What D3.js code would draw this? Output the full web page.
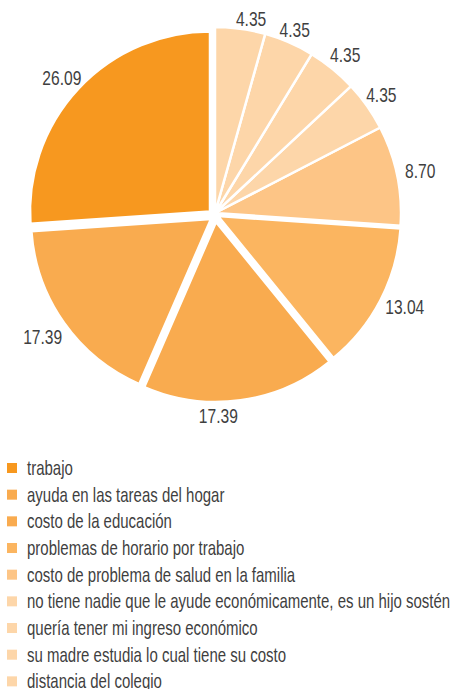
<!DOCTYPE html>
<html>
<head>
<meta charset="utf-8">
<script src="https://cdn.jsdelivr.net/npm/d3@7"></script>
<style>
  html, body { margin: 0; padding: 0; background: #fff; }
  svg { display: block; }
  text { font-family: "Liberation Sans", Arial, sans-serif; fill: #3f3f3f; }
</style>
</head>
<body>
<svg id="chart" width="452" height="689"></svg>
<script>
// Reasons given, in legend order
const categories = [
  "trabajo",
  "ayuda en las tareas del hogar",
  "costo de la educación",
  "problemas de horario por trabajo",
  "costo de problema de salud en la familia",
  "no tiene nadie que le ayude económicamente, es un hijo sostén",
  "quería tener mi ingreso económico",
  "su madre estudia lo cual tiene su costo",
  "distancia del colegio"
];
// Percentage of respondents per reason
const values = [26.09, 17.39, 17.39, 13.04, 8.70, 4.35, 4.35, 4.35, 4.35];
const valueLabels = ["26.09", "17.39", "17.39", "13.04", "8.70", "4.35", "4.35", "4.35", "4.35"];

// Slice fills
const colors = ["#f7981f", "#f9ab4f", "#f9ab4f", "#fbb560", "#fdc586", "#fdd6a9", "#fdd6a9", "#fdd6a9", "#fdd6a9"];
// Exploded slices: offset of each slice from the pie centre and its radius
const sliceShift = [[-5, -1.5], [-4, 6], [1, 9], [3, 3], [0, 0], [0, 0], [0, 0], [0, 0], [0, 0]];
const sliceRadius = [180, 180, 180, 183, 186, 186, 186, 186, 186];
// Hand-placed label nudges
const labelNudge = [[0, 5], [-2, 1], [-24, 3], [3, -4], [4, 0], [-2, 1], [1, 1], [-1, 3], [9, 3]];

// Condensed look: glyphs squeezed horizontally
const labelSqueeze = 0.78;
const legendSqueeze = 0.75;

const svg = d3.select("#chart");
const cx = 215, cy = 213;

const rows = categories.map((c, i) => ({ name: c, value: values[i], label: valueLabels[i], i }));

// Slices run counter-clockwise from 12 o'clock in legend order,
// so the largest reason ends at the top on the left.
const pie = d3.pie().sort(null).value(d => d.value)
  .startAngle(2 * Math.PI).endAngle(0);
const arcs = pie(rows);

const g = svg.append("g").attr("transform", `translate(${cx},${cy})`);

const slice = g.selectAll("g.slice").data(arcs).join("g")
  .attr("class", "slice")
  .attr("transform", d => `translate(${sliceShift[d.data.i][0]},${sliceShift[d.data.i][1]})`);

slice.append("path")
  .attr("d", d => d3.arc().innerRadius(0).outerRadius(sliceRadius[d.data.i])(d))
  .attr("fill", d => colors[d.data.i])
  .attr("stroke", "#fff")
  .attr("stroke-width", 2.5)
  .attr("stroke-linejoin", "miter");

// Value labels just outside each slice's outer edge
const pad = 3;
slice.append("text")
  .attr("text-anchor", "middle")
  .attr("dominant-baseline", "central")
  .style("font-size", "20px")
  .text(d => d.data.label)
  .each(function (d) {
    const t = d3.select(this);
    const w = this.getBBox().width * labelSqueeze;
    const a = (d.startAngle + d.endAngle) / 2;
    const s = Math.sin(a), c = -Math.cos(a);
    const proj = Math.abs(s) * w / 2 + Math.abs(c) * 8;
    const r = sliceRadius[d.data.i] + pad + proj;
    const n = labelNudge[d.data.i];
    t.attr("transform", `translate(${s * r + n[0]},${c * r + n[1]}) scale(${labelSqueeze},1)`);
  });

// Legend
const legend = svg.append("g").attr("transform", "translate(7,463)");
const row = legend.selectAll("g").data(rows).join("g")
  .attr("transform", (d, i) => `translate(0,${i * 26.67})`);
row.append("rect")
  .attr("width", 10).attr("height", 10)
  .attr("fill", d => colors[d.i]);
row.append("text")
  .attr("transform", `translate(20,12) scale(${legendSqueeze},1)`)
  .style("font-size", "20px")
  .text(d => d.name);
</script>
</body>
</html>
